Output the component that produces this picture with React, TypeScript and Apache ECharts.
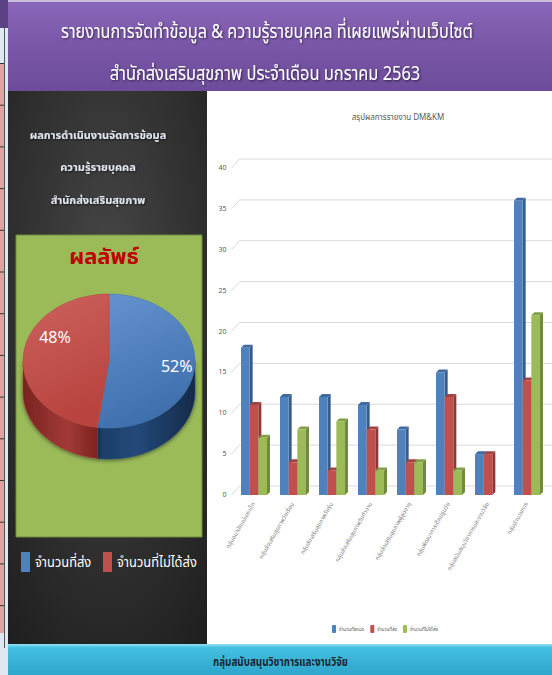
import React, { useEffect, useRef } from 'react';
import * as echarts from 'echarts';

const titleLines = [
  'รายงานการจัดทำข้อมูล & ความรู้รายบุคคล ที่เผยแพร่ผ่านเว็บไซต์',
  'สำนักส่งเสริมสุขภาพ ประจำเดือน มกราคม 2563',
];
const panelLines = ['ผลการดำเนินงานจัดการข้อมูล', 'ความรู้รายบุคคล', 'สำนักส่งเสริมสุขภาพ'];
const pieTitle = 'ผลลัพธ์';
const pieNames = ['จำนวนที่ส่ง', 'จำนวนที่ไม่ได้ส่ง'];
const pieValues = [61, 56];
const barTitle = 'สรุปผลการรายงาน DM&KM';
const categories = [
  'กลุ่มอนามัยแม่และเด็ก',
  'กลุ่มส่งเสริมสุขภาพวัยเรียน',
  'กลุ่มส่งเสริมสุขภาพวัยรุ่น',
  'กลุ่มส่งเสริมสุขภาพวัยทำงาน',
  'กลุ่มส่งเสริมสุขภาพผู้สูงอายุ',
  'กลุ่มพัฒนาการเด็กปฐมวัย',
  'กลุ่มสนับสนุนวิชาการและงานวิจัย',
  'กลุ่มอำนวยการ',
];
const seriesNames = ['จำนวนทั้งหมด', 'จำนวนที่ส่ง', 'จำนวนที่ไม่ได้ส่ง'];
const totalValues = [18, 12, 12, 11, 8, 15, 5, 36];
const sentValues = [11, 4, 3, 8, 4, 12, 5, 14];
const notSentValues = [7, 8, 9, 3, 4, 3, 0, 22];
const yTicks = [0, 5, 10, 15, 20, 25, 30, 35, 40];
const footerText = 'กลุ่มสนับสนุนวิชาการและงานวิจัย';

const FONT = "Tahoma, 'Noto Sans Thai', 'Noto Sans', sans-serif";
const W = 552;
const H = 675;

const barColors = [
  { front: '#4f81bd', side: '#385d8a', top: '#3f6a9e' },
  { front: '#c0504d', side: '#8c3836', top: '#a34341' },
  { front: '#9bbb59', side: '#71893f', top: '#82a047' },
];

const PIE = { cx: 109, cy: 361, rx: 86, ry: 67, depth: 31 };
const pieTopFill = [
  { type: 'linear', x: 0, y: 0, x2: 0.3, y2: 1, colorStops: [{ offset: 0, color: '#6593cf' }, { offset: 1, color: '#3f70ad' }] },
  { type: 'linear', x: 0, y: 0, x2: 0.3, y2: 1, colorStops: [{ offset: 0, color: '#cc625f' }, { offset: 1, color: '#b9443f' }] },
];
const pieSideFill = [
  { type: 'linear', x: 0, y: 0, x2: 1, y2: 0, colorStops: [{ offset: 0, color: '#1c3d66' }, { offset: 0.4, color: '#22497a' }, { offset: 1, color: '#152a47' }] },
  { type: 'linear', x: 0, y: 0, x2: 1, y2: 0, colorStops: [{ offset: 0, color: '#7a2321' }, { offset: 0.6, color: '#a23a37' }, { offset: 1, color: '#7c2220' }] },
];
const pieLabelFrac = [0.79, 0.63];
const pieLabelDy = [2, -20];

function pieRender(params: any, api: any) {
  const i = params.dataIndex;
  const total = pieValues.reduce((a, b) => a + b, 0);
  let start = 0;
  for (let k = 0; k < i; k++) start += pieValues[k];
  const a0 = (start / total) * Math.PI * 2;
  const a1 = ((start + api.value(0)) / total) * Math.PI * 2;
  const { cx, cy, rx, ry, depth } = PIE;
  const pt = (a: number, dy = 0) => [cx + rx * Math.sin(a), cy - ry * Math.cos(a) + dy];
  const arc = (s: number, e: number, dy = 0) => {
    const n = Math.max(2, Math.ceil(((e - s) / (Math.PI * 2)) * 120));
    const out: number[][] = [];
    for (let j = 0; j <= n; j++) out.push(pt(s + ((e - s) * j) / n, dy));
    return out;
  };
  const children: any[] = [];
  const s0 = Math.max(a0, Math.PI / 2);
  const s1 = Math.min(a1, (Math.PI * 3) / 2);
  if (s1 > s0) {
    const upper = arc(s0, s1, 0);
    const lower = arc(s0, s1, depth).reverse();
    children.push({
      type: 'polygon',
      shape: { points: upper.concat(lower) },
      style: { fill: pieSideFill[i], stroke: pieSideFill[i].colorStops[1].color, lineWidth: 0.5, shadowBlur: 4, shadowColor: 'rgba(0,0,0,0.55)', shadowOffsetY: 1 },
    });
  }
  children.push({
    type: 'polygon',
    shape: { points: [[cx, cy]].concat(arc(a0, a1, 0)) },
    style: { fill: pieTopFill[i], stroke: pieTopFill[i].colorStops[1].color, lineWidth: 0.5 },
  });
  const mid = (a0 + a1) / 2;
  const f = pieLabelFrac[i];
  children.push({
    type: 'text',
    style: {
      x: cx + rx * f * Math.sin(mid),
      y: cy - ry * f * Math.cos(mid) + pieLabelDy[i],
      text: Math.round((api.value(0) / total) * 100) + '%',
      fill: '#ffffff',
      font: `16px ${FONT}`,
      align: 'center',
      verticalAlign: 'middle',
    },
    z2: 10,
  });
  return { type: 'group', children };
}

function makeBarRender(idx: number) {
  return (params: any, api: any) => {
    const x = api.value(0);
    const v = api.value(1);
    if (!v) return { type: 'group', children: [] };
    const base = api.coord([x, 0]);
    const top = api.coord([x, v]);
    const band = api.size([1, 0])[0];
    const bw = band * 0.222;
    const left = base[0] - 1.5 * bw + idx * bw;
    const dx = 3;
    const dy = 3;
    const c = barColors[idx];
    return {
      type: 'group',
      children: [
        { type: 'polygon', shape: { points: [[left + bw, top[1]], [left + bw + dx, top[1] - dy], [left + bw + dx, base[1] - dy], [left + bw, base[1]]] }, style: { fill: c.side } },
        { type: 'polygon', shape: { points: [[left, top[1]], [left + dx, top[1] - dy], [left + bw + dx, top[1] - dy], [left + bw, top[1]]] }, style: { fill: c.top } },
        { type: 'rect', shape: { x: left, y: top[1], width: bw, height: base[1] - top[1] }, style: { fill: c.front } },
      ],
    };
  };
}

function gridRender(params: any, api: any) {
  const y = api.coord([0, api.value(1)])[1];
  const x0 = params.coordSys.x;
  return {
    type: 'polyline',
    shape: { points: [[x0 - 3, y], [x0 + 5, y - 9], [api.getWidth(), y - 9]] },
    style: { stroke: '#d9d9d9', lineWidth: 1, fill: 'none' },
  };
}

export default function App() {
  const ref = useRef<HTMLDivElement>(null);
  useEffect(() => {
    if (!ref.current) return;
    const chart = echarts.init(ref.current, undefined, { renderer: 'svg' });
    const shadowText = { textShadowColor: 'rgba(0,0,0,0.6)', textShadowBlur: 2, textShadowOffsetX: 1, textShadowOffsetY: 1 };
    const narrowText = (x: number, y: number, sx: number, style: any) => ({
      type: 'text', x, y, scaleX: sx, z: 5,
      style: { x: 0, y: 0, ...style },
    });
    const graphic: any[] = [
      // left strip
      { type: 'rect', shape: { x: 0, y: 0, width: 8, height: H }, style: { fill: '#dfe7f0' }, z: -10 },
      { type: 'rect', shape: { x: 0, y: 0, width: 8, height: 28 }, style: { fill: '#5b4285' }, z: -9 },
      { type: 'rect', shape: { x: 0, y: 63, width: 4, height: 570 }, style: { fill: '#e3a2a2' }, z: -9 },
      ...Array.from({ length: 14 }, (_, k) => ({ type: 'rect', shape: { x: 0, y: 63 + k * 41.7, width: 4, height: 1 }, style: { fill: '#333' }, z: -8 })),
      { type: 'rect', shape: { x: 4, y: 28, width: 1, height: 620 }, style: { fill: '#555' }, z: -8 },
      // header
      {
        type: 'rect', shape: { x: 8, y: 2, width: W - 8, height: 89 },
        style: { fill: { type: 'linear', x: 0, y: 0, x2: 0, y2: 1, colorStops: [{ offset: 0, color: '#8a66ba' }, { offset: 0.5, color: '#7a56a8' }, { offset: 1, color: '#6c4c9a' }] } },
        z: -9,
      },
      { type: 'rect', shape: { x: 8, y: 0, width: W - 8, height: 2 }, style: { fill: '#c9bedc' }, z: -9 },
      narrowText(267, 32, 0.81, { text: titleLines[0], fill: '#ffffff', font: `20px ${FONT}`, align: 'center', verticalAlign: 'middle', ...shadowText }),
      narrowText(265, 74, 0.82, { text: titleLines[1], fill: '#ffffff', font: `20px ${FONT}`, align: 'center', verticalAlign: 'middle', ...shadowText }),
      // dark panel
      {
        type: 'rect', shape: { x: 8, y: 91, width: 199, height: 553 },
        style: { fill: { type: 'radial', x: 0.5, y: 0.35, r: 0.8, colorStops: [{ offset: 0, color: '#474747' }, { offset: 1, color: '#1f1f1f' }] } },
        z: -9,
      },
      ...panelLines.map((t, k) => ({ type: 'text', style: { x: 98, y: 135 + k * 32.5, text: t, fill: '#dfe6f0', font: `bold 11px ${FONT}`, align: 'center', verticalAlign: 'middle', ...shadowText }, z: 5 })),
      { type: 'rect', shape: { x: 16, y: 235, width: 186, height: 302 }, style: { fill: '#9bbb59', stroke: '#6f8a3e', lineWidth: 1 }, z: -8 },
      { type: 'text', style: { x: 104, y: 257, text: pieTitle, fill: '#c00000', font: `bold 22px ${FONT}`, align: 'center', verticalAlign: 'middle' }, z: 5 },
      { type: 'rect', shape: { x: 21, y: 552, width: 9, height: 20 }, style: { fill: '#4f81bd' }, z: 5 },
      narrowText(35, 563, 0.92, { text: pieNames[0], fill: '#ffffff', font: `14px ${FONT}`, align: 'left', verticalAlign: 'middle' }),
      { type: 'rect', shape: { x: 103, y: 552, width: 9, height: 20 }, style: { fill: '#c0504d' }, z: 5 },
      narrowText(117, 563, 0.92, { text: pieNames[1], fill: '#ffffff', font: `14px ${FONT}`, align: 'left', verticalAlign: 'middle' }),
      // white chart area
      { type: 'rect', shape: { x: 207, y: 91, width: W - 207, height: 553 }, style: { fill: '#ffffff' }, z: -9 },
      { type: 'text', style: { x: 398, y: 118, text: barTitle, fill: '#595959', font: `8px ${FONT}`, align: 'center', verticalAlign: 'middle' }, z: 5 },
      // footer
      {
        type: 'rect', shape: { x: 8, y: 644, width: W - 8, height: 31 },
        style: { fill: { type: 'linear', x: 0, y: 0, x2: 0, y2: 1, colorStops: [{ offset: 0, color: '#8fe6f8' }, { offset: 0.12, color: '#45bfe0' }, { offset: 1, color: '#2ea6cb' }] } },
        z: -9,
      },
      narrowText(213, 662, 0.82, { text: footerText, fill: '#1b2633', font: `bold 12px ${FONT}`, align: 'left', verticalAlign: 'middle' }),
    ];

    chart.setOption({
      animation: false,
      graphic,
      grid: { left: 234.5, right: 5.5, top: 168, bottom: 180, containLabel: false },
      legend: {
        left: 327, top: 620, itemWidth: 4, itemHeight: 8, itemGap: 6,
        textStyle: { fontSize: 4.5, color: '#595959', fontFamily: FONT, padding: [0, 0, 0, -2] },
        data: seriesNames,
      },
      xAxis: {
        type: 'category', data: categories,
        axisLine: { show: false }, axisTick: { show: false },
        axisLabel: { interval: 0, rotate: 60, fontSize: 6, color: '#7f7f7f', fontFamily: FONT, margin: 8 },
      },
      yAxis: {
        type: 'value', min: 0, max: 40, interval: 5,
        axisLine: { show: false }, axisTick: { show: false }, splitLine: { show: false },
        axisLabel: { fontSize: 7, color: '#595959', fontFamily: FONT, margin: 8 },
      },
      series: [
        { type: 'custom', name: 'grid', z: 1, silent: true, renderItem: gridRender, data: yTicks.map((v) => [0, v]), encode: { x: 0, y: 1 } },
        { type: 'custom', name: seriesNames[0], z: 2, itemStyle: { color: barColors[0].front }, renderItem: makeBarRender(0), data: totalValues.map((v, i) => [i, v]), encode: { x: 0, y: 1 } },
        { type: 'custom', name: seriesNames[1], z: 3, itemStyle: { color: barColors[1].front }, renderItem: makeBarRender(1), data: sentValues.map((v, i) => [i, v]), encode: { x: 0, y: 1 } },
        { type: 'custom', name: seriesNames[2], z: 4, itemStyle: { color: barColors[2].front }, renderItem: makeBarRender(2), data: notSentValues.map((v, i) => [i, v]), encode: { x: 0, y: 1 } },
        { type: 'custom', name: 'pie', coordinateSystem: 'none', z: 5, renderItem: pieRender, data: pieValues.map((v, i) => ({ name: pieNames[i], value: [v] })) },
      ],
    });
    return () => chart.dispose();
  }, []);
  return <div ref={ref} style={{ position: 'absolute', left: 0, top: 0, width: W, height: H }} />;
}
